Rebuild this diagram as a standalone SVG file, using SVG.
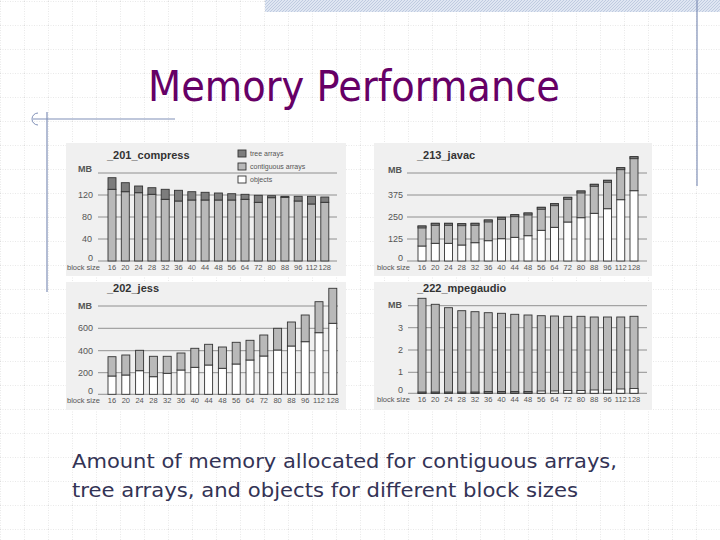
<svg xmlns="http://www.w3.org/2000/svg" width="720" height="540" viewBox="0 0 720 540">
<defs>
<pattern id="grid" width="24" height="24" patternUnits="userSpaceOnUse" y="1">
<path d="M0 0H24M0 0V24" fill="none" stroke="#c8c8c8" stroke-width="0.8" stroke-dasharray="1,1.5"/>
</pattern>
<pattern id="hatch" width="3" height="3" patternUnits="userSpaceOnUse">
<rect width="3" height="3" fill="#dfe6f2"/><path d="M0 3L3 0" stroke="#b7c4dc" stroke-width="0.8"/>
</pattern>
</defs>
<style>
.bg{fill:#f0f0f0}
.gl{stroke:#777;stroke-width:0.8}
.c{fill:#b9b9b9;stroke:#333;stroke-width:0.9}
.t{fill:#7d7d7d;stroke:#333;stroke-width:0.9}
.o{fill:#fff;stroke:#333;stroke-width:0.9}
.ttl{font-family:"Liberation Sans",Arial,sans-serif;font-weight:bold;font-size:11px;fill:#333}
.ax{font-family:"Liberation Sans",Arial,sans-serif;font-size:9px;fill:#555}
.lb{font-family:"Liberation Sans",Arial,sans-serif;font-size:7.5px;fill:#555;text-anchor:middle}
.bs{font-family:"Liberation Sans",Arial,sans-serif;font-size:7.5px;fill:#555}
.lg{font-family:"Liberation Sans",Arial,sans-serif;font-size:7px;fill:#555}
</style>
<rect width="720" height="540" fill="#fff"/>
<rect width="720" height="540" fill="url(#grid)"/>
<rect x="265" y="0" width="455" height="12" fill="url(#hatch)"/>
<line x1="697" y1="0" x2="697" y2="186" stroke="#8090b8" stroke-width="1.2"/>
<line x1="33" y1="119" x2="175" y2="119" stroke="#8090b8" stroke-width="1.2"/>
<line x1="47" y1="112" x2="47" y2="292" stroke="#8090b8" stroke-width="1.2"/>
<path d="M38 113 A6 6 0 0 0 38 125" fill="none" stroke="#8090b8" stroke-width="1"/>
<text x="148" y="101" font-family="DejaVu Sans,Tahoma,sans-serif" font-size="42" fill="#660066" textLength="412" lengthAdjust="spacingAndGlyphs">Memory Performance</text>

<g id="chart-compress">
<rect class="bg" x="66" y="143" width="280" height="133"/>
<text class="ttl" x="107" y="159">_201_compress</text>
<rect class="t" x="238" y="150" width="8" height="7"/><text class="lg" x="250" y="156">tree arrays</text>
<rect class="c" x="238" y="163" width="8" height="7"/><text class="lg" x="250" y="169">contiguous arrays</text>
<rect class="o" x="238" y="176" width="8" height="7"/><text class="lg" x="250" y="182">objects</text>
<text class="ax" x="78" y="172" font-weight="bold">MB</text>
<line class="gl" x1="98" y1="173" x2="337" y2="173"/><line class="gl" x1="98" y1="195" x2="337" y2="195"/><line class="gl" x1="98" y1="217" x2="337" y2="217"/><line class="gl" x1="98" y1="239" x2="337" y2="239"/><line class="gl" x1="98" y1="261" x2="337" y2="261"/>
<text class="ax" x="78" y="198">120</text><text class="ax" x="82" y="220">80</text><text class="ax" x="82" y="242">40</text><text class="ax" x="88" y="261">0</text>
<rect class="c" x="108" y="189.3" width="8" height="71.7"/><rect class="t" x="108" y="177.7" width="8" height="11.6"/>
<rect class="c" x="121.3" y="191.7" width="8" height="69.3"/><rect class="t" x="121.3" y="182.7" width="8" height="9"/>
<rect class="c" x="134.6" y="192.7" width="8" height="68.3"/><rect class="t" x="134.6" y="186" width="8" height="6.7"/>
<rect class="c" x="147.9" y="194.3" width="8" height="66.7"/><rect class="t" x="147.9" y="187.7" width="8" height="6.6"/>
<rect class="c" x="161.2" y="199.3" width="8" height="61.7"/><rect class="t" x="161.2" y="189.3" width="8" height="10"/>
<rect class="c" x="174.5" y="201" width="8" height="60"/><rect class="t" x="174.5" y="190.3" width="8" height="10.7"/>
<rect class="c" x="187.8" y="200" width="8" height="61"/><rect class="t" x="187.8" y="191.7" width="8" height="8.3"/>
<rect class="c" x="201.1" y="200" width="8" height="61"/><rect class="t" x="201.1" y="192.3" width="8" height="7.7"/>
<rect class="c" x="214.4" y="200" width="8" height="61"/><rect class="t" x="214.4" y="193" width="8" height="7"/>
<rect class="c" x="227.7" y="200" width="8" height="61"/><rect class="t" x="227.7" y="193.7" width="8" height="6.3"/>
<rect class="c" x="241" y="199.3" width="8" height="61.7"/><rect class="t" x="241" y="194.3" width="8" height="5"/>
<rect class="c" x="254.3" y="202.3" width="8" height="58.7"/><rect class="t" x="254.3" y="195.3" width="8" height="7"/>
<rect class="c" x="267.6" y="197.7" width="8" height="63.3"/><rect class="t" x="267.6" y="195.7" width="8" height="2"/>
<rect class="c" x="280.9" y="197.3" width="8" height="63.7"/><rect class="t" x="280.9" y="196.3" width="8" height="1"/>
<rect class="c" x="294.2" y="201" width="8" height="60"/><rect class="t" x="294.2" y="196.3" width="8" height="4.7"/>
<rect class="c" x="307.5" y="204" width="8" height="57"/><rect class="t" x="307.5" y="196.3" width="8" height="7.7"/>
<rect class="c" x="320.8" y="202.3" width="8" height="58.7"/><rect class="t" x="320.8" y="197" width="8" height="5.3"/>
<text class="bs" x="67" y="270">block size</text>
<text class="lb" y="270"><tspan x="112">16</tspan><tspan x="125.3">20</tspan><tspan x="138.6">24</tspan><tspan x="151.9">28</tspan><tspan x="165.2">32</tspan><tspan x="178.5">36</tspan><tspan x="191.8">40</tspan><tspan x="205.1">44</tspan><tspan x="218.4">48</tspan><tspan x="231.7">56</tspan><tspan x="245">64</tspan><tspan x="258.3">72</tspan><tspan x="271.6">80</tspan><tspan x="284.9">88</tspan><tspan x="298.2">96</tspan><tspan x="311.5">112</tspan><tspan x="324.8">128</tspan></text>
</g>

<g id="chart-javac">
<rect class="bg" x="374" y="143" width="278" height="133"/>
<text class="ttl" x="417" y="159">_213_javac</text>
<text class="ax" x="388" y="173" font-weight="bold">MB</text>
<line class="gl" x1="407" y1="173" x2="647" y2="173"/><line class="gl" x1="407" y1="195" x2="647" y2="195"/><line class="gl" x1="407" y1="217" x2="647" y2="217"/><line class="gl" x1="407" y1="239" x2="647" y2="239"/><line class="gl" x1="407" y1="261" x2="647" y2="261"/>
<text class="ax" x="388" y="198">375</text><text class="ax" x="388" y="220">250</text><text class="ax" x="388" y="242">125</text><text class="ax" x="398" y="261">0</text>
<g id="jv">
<rect class="o" x="418" y="246" width="8" height="15"/><rect class="c" x="418" y="226" width="8" height="20"/><rect class="t" x="418" y="226" width="8" height="2"/>
<rect class="o" x="431.25" y="243.3" width="8" height="17.7"/><rect class="c" x="431.25" y="223.3" width="8" height="20"/><rect class="t" x="431.25" y="223.3" width="8" height="2"/>
<rect class="o" x="444.5" y="243.3" width="8" height="17.7"/><rect class="c" x="444.5" y="223.3" width="8" height="20"/><rect class="t" x="444.5" y="223.3" width="8" height="2"/>
<rect class="o" x="457.75" y="245" width="8" height="16"/><rect class="c" x="457.75" y="223.7" width="8" height="21.3"/><rect class="t" x="457.75" y="223.7" width="8" height="2"/>
<rect class="o" x="471" y="242.7" width="8" height="18.3"/><rect class="c" x="471" y="223.3" width="8" height="19.4"/><rect class="t" x="471" y="223.3" width="8" height="2"/>
<rect class="o" x="484.25" y="240.7" width="8" height="20.3"/><rect class="c" x="484.25" y="220" width="8" height="20.7"/><rect class="t" x="484.25" y="220" width="8" height="2"/>
<rect class="o" x="497.5" y="238.7" width="8" height="22.3"/><rect class="c" x="497.5" y="217.3" width="8" height="21.4"/><rect class="t" x="497.5" y="217.3" width="8" height="2"/>
<rect class="o" x="510.75" y="237.3" width="8" height="23.7"/><rect class="c" x="510.75" y="214.7" width="8" height="22.6"/><rect class="t" x="510.75" y="214.7" width="8" height="2"/>
<rect class="o" x="524" y="235.7" width="8" height="25.3"/><rect class="c" x="524" y="213" width="8" height="22.7"/><rect class="t" x="524" y="213" width="8" height="2"/>
<rect class="o" x="537.25" y="230.3" width="8" height="30.7"/><rect class="c" x="537.25" y="207.3" width="8" height="23"/><rect class="t" x="537.25" y="207.3" width="8" height="2"/>
<rect class="o" x="550.5" y="227.3" width="8" height="33.7"/><rect class="c" x="550.5" y="203.7" width="8" height="23.6"/><rect class="t" x="550.5" y="203.7" width="8" height="2"/>
<rect class="o" x="563.75" y="222" width="8" height="39"/><rect class="c" x="563.75" y="197.3" width="8" height="24.7"/><rect class="t" x="563.75" y="197.3" width="8" height="2"/>
<rect class="o" x="577" y="217.7" width="8" height="43.3"/><rect class="c" x="577" y="191" width="8" height="26.7"/><rect class="t" x="577" y="191" width="8" height="2"/>
<rect class="o" x="590.25" y="213.3" width="8" height="47.7"/><rect class="c" x="590.25" y="184.3" width="8" height="29"/><rect class="t" x="590.25" y="184.3" width="8" height="2"/>
<rect class="o" x="603.5" y="208.7" width="8" height="52.3"/><rect class="c" x="603.5" y="180.3" width="8" height="28.4"/><rect class="t" x="603.5" y="180.3" width="8" height="2"/>
<rect class="o" x="616.75" y="199.7" width="8" height="61.3"/><rect class="c" x="616.75" y="167.7" width="8" height="32"/><rect class="t" x="616.75" y="167.7" width="8" height="2"/>
<rect class="o" x="630" y="190.7" width="8" height="70.3"/><rect class="c" x="630" y="156.7" width="8" height="34"/><rect class="t" x="630" y="156.7" width="8" height="2"/>
</g>
<text class="bs" x="377" y="270">block size</text>
<text class="lb" y="270"><tspan x="422">16</tspan><tspan x="435.25">20</tspan><tspan x="448.5">24</tspan><tspan x="461.75">28</tspan><tspan x="475">32</tspan><tspan x="488.25">36</tspan><tspan x="501.5">40</tspan><tspan x="514.75">44</tspan><tspan x="528">48</tspan><tspan x="541.25">56</tspan><tspan x="554.5">64</tspan><tspan x="567.75">72</tspan><tspan x="581">80</tspan><tspan x="594.25">88</tspan><tspan x="607.5">96</tspan><tspan x="620.75">112</tspan><tspan x="634">128</tspan></text>
</g>

<g id="chart-jess">
<rect class="bg" x="66" y="282" width="280" height="128"/>
<text class="ttl" x="107" y="292">_202_jess</text>
<text class="ax" x="78" y="309" font-weight="bold">MB</text>
<line class="gl" x1="98" y1="306" x2="338" y2="306"/><line class="gl" x1="98" y1="328.3" x2="338" y2="328.3"/><line class="gl" x1="98" y1="350.7" x2="338" y2="350.7"/><line class="gl" x1="98" y1="372.7" x2="338" y2="372.7"/><line class="gl" x1="98" y1="394.3" x2="338" y2="394.3"/>
<text class="ax" x="78" y="331">600</text><text class="ax" x="78" y="353.5">400</text><text class="ax" x="78" y="375.5">200</text><text class="ax" x="88" y="394">0</text>
<rect class="o" x="108" y="376" width="8" height="18.3"/><rect class="c" x="108" y="356.7" width="8" height="19.3"/>
<rect class="o" x="121.8" y="375" width="8" height="19.3"/><rect class="c" x="121.8" y="355" width="8" height="20"/>
<rect class="o" x="135.6" y="370.7" width="8" height="23.6"/><rect class="c" x="135.6" y="350.3" width="8" height="20.4"/>
<rect class="o" x="149.4" y="376.7" width="8" height="17.6"/><rect class="c" x="149.4" y="356.3" width="8" height="20.4"/>
<rect class="o" x="163.2" y="373.3" width="8" height="21"/><rect class="c" x="163.2" y="356.3" width="8" height="17"/>
<rect class="o" x="177" y="370" width="8" height="24.3"/><rect class="c" x="177" y="353" width="8" height="17"/>
<rect class="o" x="190.8" y="367.3" width="8" height="27"/><rect class="c" x="190.8" y="348.3" width="8" height="19"/>
<rect class="o" x="204.6" y="365" width="8" height="29.3"/><rect class="c" x="204.6" y="344.3" width="8" height="20.7"/>
<rect class="o" x="218.4" y="368.3" width="8" height="26"/><rect class="c" x="218.4" y="347" width="8" height="21.3"/>
<rect class="o" x="232.2" y="364" width="8" height="30.3"/><rect class="c" x="232.2" y="342.3" width="8" height="21.7"/>
<rect class="o" x="246" y="360" width="8" height="34.3"/><rect class="c" x="246" y="340.3" width="8" height="19.7"/>
<rect class="o" x="259.8" y="356" width="8" height="38.3"/><rect class="c" x="259.8" y="335" width="8" height="21"/>
<rect class="o" x="273.6" y="350" width="8" height="44.3"/><rect class="c" x="273.6" y="328.3" width="8" height="21.7"/>
<rect class="o" x="287.4" y="346" width="8" height="48.3"/><rect class="c" x="287.4" y="322" width="8" height="24"/>
<rect class="o" x="301.2" y="341.7" width="8" height="52.6"/><rect class="c" x="301.2" y="315" width="8" height="26.7"/>
<rect class="o" x="315" y="332.7" width="8" height="61.6"/><rect class="c" x="315" y="301.7" width="8" height="31"/>
<rect class="o" x="328.8" y="323.3" width="8" height="71"/><rect class="c" x="328.8" y="288.3" width="8" height="35"/>
<text class="bs" x="67" y="403">block size</text>
<text class="lb" y="403"><tspan x="112">16</tspan><tspan x="125.8">20</tspan><tspan x="139.6">24</tspan><tspan x="153.4">28</tspan><tspan x="167.2">32</tspan><tspan x="181">36</tspan><tspan x="194.8">40</tspan><tspan x="208.6">44</tspan><tspan x="222.4">48</tspan><tspan x="236.2">56</tspan><tspan x="250">64</tspan><tspan x="263.8">72</tspan><tspan x="277.6">80</tspan><tspan x="291.4">88</tspan><tspan x="305.2">96</tspan><tspan x="319">112</tspan><tspan x="332.8">128</tspan></text>
</g>

<g id="chart-mpegaudio">
<rect class="bg" x="374" y="282" width="278" height="128"/>
<text class="ttl" x="417" y="292">_222_mpegaudio</text>
<text class="ax" x="388" y="308" font-weight="bold">MB</text>
<line class="gl" x1="408" y1="305.7" x2="647" y2="305.7"/><line class="gl" x1="408" y1="327.7" x2="647" y2="327.7"/><line class="gl" x1="408" y1="350" x2="647" y2="350"/><line class="gl" x1="408" y1="372.3" x2="647" y2="372.3"/><line class="gl" x1="408" y1="393.3" x2="647" y2="393.3"/>
<text class="ax" x="398" y="330.5">3</text><text class="ax" x="398" y="353">2</text><text class="ax" x="398" y="375">1</text><text class="ax" x="398" y="393">0</text>
<rect class="c" x="418" y="298.3" width="8" height="95"/><rect class="t" x="418" y="392" width="8" height="1.3"/>
<rect class="c" x="431.25" y="304.3" width="8" height="89"/><rect class="t" x="431.25" y="392" width="8" height="1.3"/>
<rect class="c" x="444.5" y="307.7" width="8" height="85.6"/><rect class="t" x="444.5" y="392" width="8" height="1.3"/>
<rect class="c" x="457.75" y="310.7" width="8" height="82.6"/><rect class="t" x="457.75" y="392" width="8" height="1.3"/>
<rect class="c" x="471" y="311.7" width="8" height="81.6"/><rect class="t" x="471" y="392" width="8" height="1.3"/>
<rect class="c" x="484.25" y="312.7" width="8" height="80.6"/><rect class="t" x="484.25" y="391.5" width="8" height="1.8"/>
<rect class="c" x="497.5" y="313.3" width="8" height="80"/><rect class="t" x="497.5" y="391.5" width="8" height="1.8"/>
<rect class="c" x="510.75" y="314.3" width="8" height="79"/><rect class="t" x="510.75" y="391.5" width="8" height="1.8"/>
<rect class="c" x="524" y="315" width="8" height="78.3"/><rect class="t" x="524" y="391.5" width="8" height="1.8"/>
<rect class="c" x="537.25" y="315.7" width="8" height="77.6"/><rect class="o" x="537.25" y="391" width="8" height="2.3"/>
<rect class="c" x="550.5" y="316" width="8" height="77.3"/><rect class="o" x="550.5" y="391" width="8" height="2.3"/>
<rect class="c" x="563.75" y="316.3" width="8" height="77"/><rect class="o" x="563.75" y="390.5" width="8" height="2.8"/>
<rect class="c" x="577" y="316.3" width="8" height="77"/><rect class="o" x="577" y="390.5" width="8" height="2.8"/>
<rect class="c" x="590.25" y="317" width="8" height="76.3"/><rect class="o" x="590.25" y="390" width="8" height="3.3"/>
<rect class="c" x="603.5" y="317" width="8" height="76.3"/><rect class="o" x="603.5" y="390" width="8" height="3.3"/>
<rect class="c" x="616.75" y="317" width="8" height="76.3"/><rect class="o" x="616.75" y="389" width="8" height="4.3"/>
<rect class="c" x="630" y="316.3" width="8" height="77"/><rect class="o" x="630" y="388.5" width="8" height="4.8"/>
<text class="bs" x="377" y="402">block size</text>
<text class="lb" y="402"><tspan x="422">16</tspan><tspan x="435.25">20</tspan><tspan x="448.5">24</tspan><tspan x="461.75">28</tspan><tspan x="475">32</tspan><tspan x="488.25">36</tspan><tspan x="501.5">40</tspan><tspan x="514.75">44</tspan><tspan x="528">48</tspan><tspan x="541.25">56</tspan><tspan x="554.5">64</tspan><tspan x="567.75">72</tspan><tspan x="581">80</tspan><tspan x="594.25">88</tspan><tspan x="607.5">96</tspan><tspan x="620.75">112</tspan><tspan x="634">128</tspan></text>
</g>

<g id="caption" font-family="DejaVu Sans,Tahoma,sans-serif" font-size="20" fill="#333355">
<text x="72" y="468" textLength="545" lengthAdjust="spacingAndGlyphs">Amount of memory allocated for contiguous arrays,</text>
<text x="72" y="497" textLength="506" lengthAdjust="spacingAndGlyphs">tree arrays, and objects for different block sizes</text>
</g>
</svg>
